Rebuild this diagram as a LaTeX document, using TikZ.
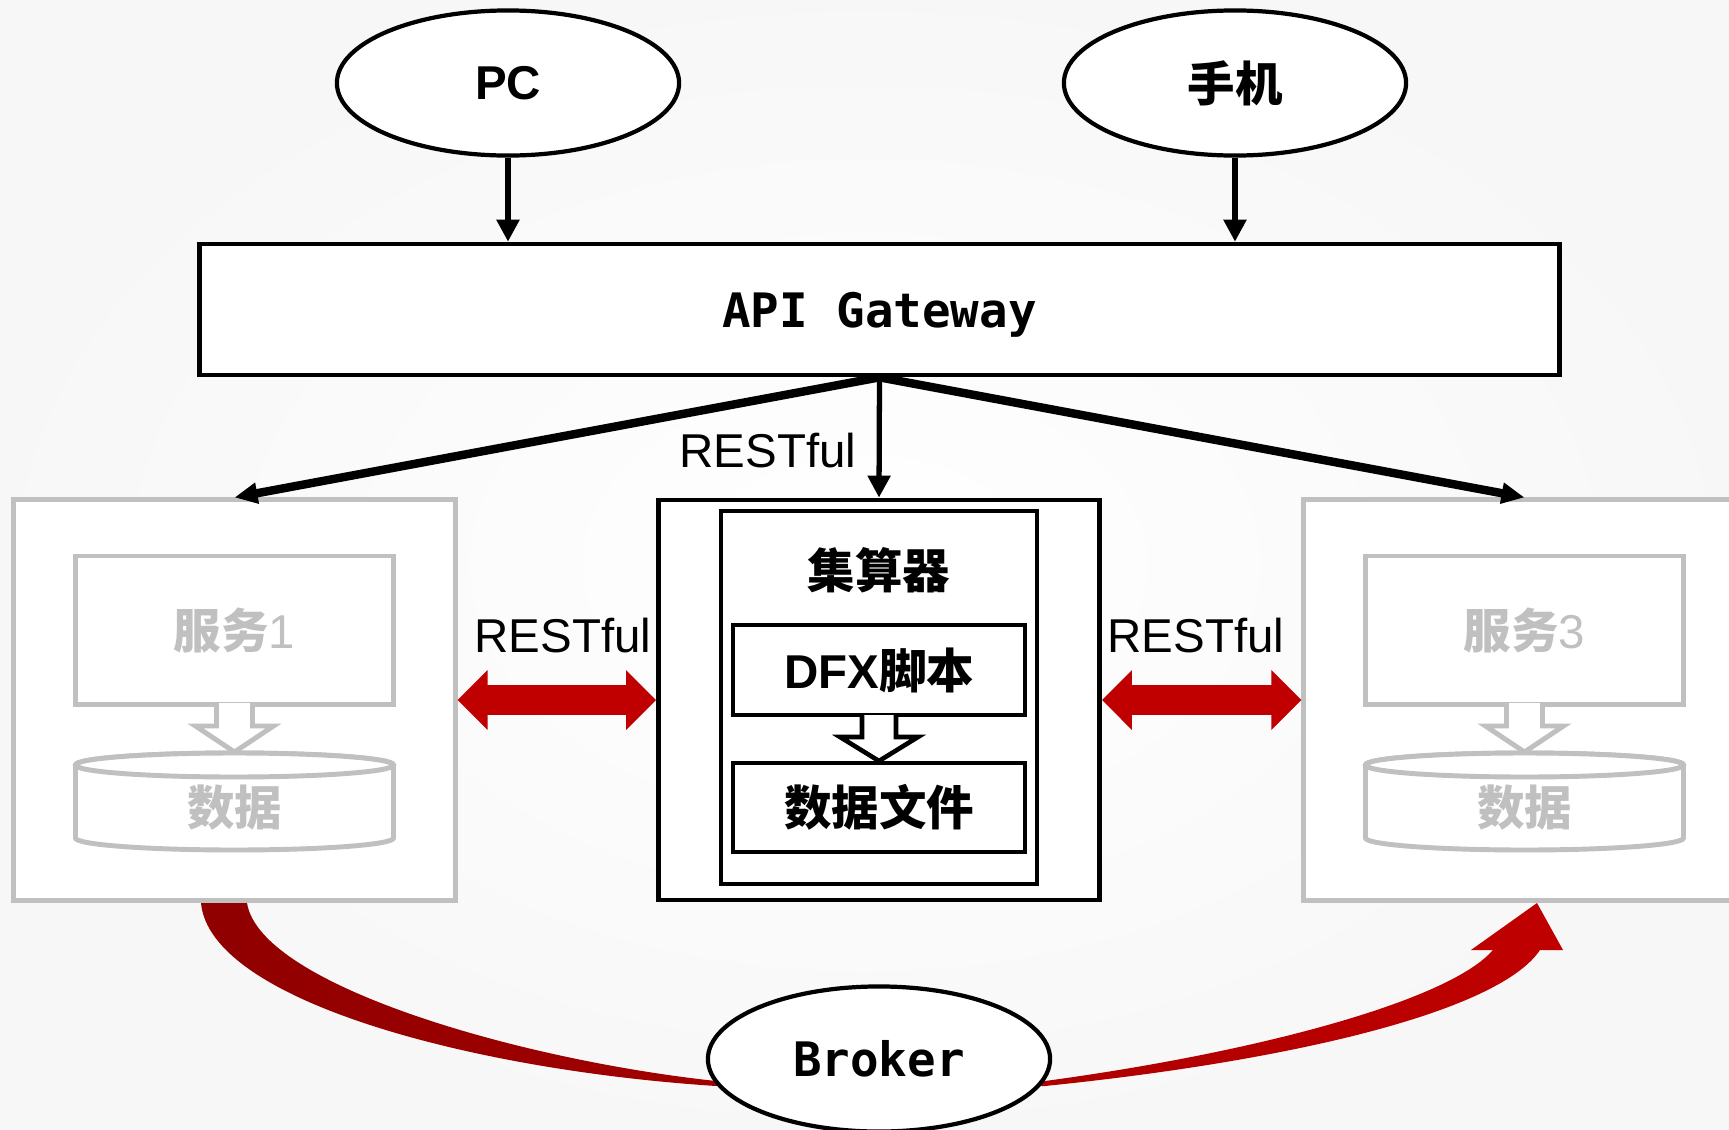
\documentclass[tikz,border=0pt]{standalone}
\usepackage{fontspec}
\setmainfont{Liberation Sans}
\setmonofont{DejaVu Sans Mono}
\newfontfamily\cjk{Noto Sans CJK SC}
\usepackage{tikz}
\usetikzlibrary{positioning, arrows.meta, shapes.geometric}
\definecolor{svcgrey}{HTML}{C0C0C0}
\definecolor{restred}{HTML}{C00000}
\definecolor{brokerred}{HTML}{900000}
\newcommand{\bigtext}{\fontsize{13.5}{16}\selectfont}

\tikzset{
  client/.style={ellipse, draw, line width=1.2pt, fill=white, minimum width=3.42cm, minimum height=1.45cm, inner sep=0pt},
  blackbox/.style={draw, line width=1.3pt, fill=white, inner sep=0pt},
  greybox/.style={draw=svcgrey, line width=1.4pt, fill=white, inner sep=0pt},
  greyline/.style={draw=svcgrey, line width=1.4pt, fill=white},
  link/.style={line width=1.5pt, -{Triangle[length=0.22cm,width=0.22cm]}},
  fatlink/.style={line width=2.4pt, -{Triangle[length=0.23cm,width=0.2cm]}},
  restlink/.style={restred, line width=0.3cm, {Triangle[length=0.3cm,width=0.58cm]}-{Triangle[length=0.3cm,width=0.58cm]}},
  restlabel/.style={inner sep=0pt, font=\bigtext},
}

\begin{document}
\begin{tikzpicture}[x=0.01cm, y=0.01cm]
% background
\shade[inner color=white, outer color=gray!6] (0,0) rectangle (1729,-1130);
\useasboundingbox (0,0) rectangle (1729,-1130);

% clients
\node[client, font=\bigtext\bfseries] (pc) at (508,-83) {PC};
\node[client, font=\bigtext\cjk\bfseries] (phone) at (1235,-83) {手机};

% gateway
\node[blackbox, minimum width=13.59cm, minimum height=1.31cm, text depth=0pt, font=\bigtext\ttfamily\bfseries] (gw) at (879.5,-309.5) {API Gateway};
\draw[link] (pc.south) -- (pc.south |- gw.north);
\draw[link] (phone.south) -- (phone.south |- gw.north);

% services
\node[greybox, minimum width=4.41cm, minimum height=4cm] (svc1) at (234.5,-700) {};
\node[blackbox, minimum width=4.41cm, minimum height=4cm] (agg) at (879,-700) {};
\node[greybox, minimum width=4.41cm, minimum height=4cm] (svc3) at (1524.5,-700) {};

\draw[fatlink] (gw.south) -- (svc1.north);
\draw[link] (gw.south) -- (agg.north);
\draw[fatlink] (gw.south) -- (svc3.north);
\node[restlabel, anchor=east] (rest0) at (857,-451) {RESTful};

% aggregator
\node[blackbox, minimum width=3.16cm, minimum height=3.73cm] (inner) at (879,-697.5) {};
\node[font=\bigtext\cjk\bfseries] (aggname) at (879,-570) {集算器};
\node[blackbox, minimum width=2.92cm, minimum height=0.9cm, font=\bigtext\bfseries] (dfx) at (879,-670) {DFX{\cjk 脚本}};
\node[blackbox, minimum width=2.92cm, minimum height=0.89cm, font=\bigtext\cjk\bfseries] (file) at (879,-807.5) {数据文件};
\draw[line width=1.3pt, fill=white] (862,-715) -- (862,-737) -- (840,-737) -- (879,-761) -- (918,-737) -- (896,-737) -- (896,-715);

% service contents
\foreach \cx/\n in {234.5/1, 1524.5/3} {
  \node[greybox, minimum width=3.18cm, minimum height=1.48cm, text=svcgrey, font=\bigtext] (task\n) at (\cx,-630) {{\cjk\bfseries 服务}\n};
  \draw[greyline] (\cx-18,-703) -- (\cx-18,-726) -- (\cx-39,-726) -- (\cx,-752) -- (\cx+39,-726) -- (\cx+18,-726) -- (\cx+18,-703);
  \draw[greyline] (\cx-159,-765) -- (\cx-159,-838) arc[start angle=180, end angle=360, x radius=159, y radius=12]
    -- (\cx+159,-765) arc[start angle=0, end angle=180, x radius=159, y radius=12] -- cycle;
  \draw[greyline] (\cx,-765) ellipse[x radius=159, y radius=12];
  \node[text=svcgrey, font=\bigtext\cjk\bfseries] (data\n) at (\cx,-808) {数据};
}

% restful links
\draw[restlink] (svc1.east) -- (agg.west);
\draw[restlink] (agg.east) -- (svc3.west);
\node[restlabel] (rest1) at (563,-636) {RESTful};
\node[restlabel] (rest3) at (1196,-636) {RESTful};

% broker band
\shade[left color=brokerred, middle color=restred, right color=restred]
  (201,-903) .. controls (210,-1000) and (470,-1070) .. (716,-1086)
  -- (1045,-1086) .. controls (1300,-1060) and (1500,-1010) .. (1540,-950)
  -- (1563,-950) -- (1537,-903) -- (1471,-950) -- (1493,-950)
  .. controls (1450,-1000) and (1260,-1052) .. (1045,-1081)
  -- (716,-1081) .. controls (520,-1060) and (260,-985) .. (247,-903) -- cycle;
\node[client, font=\bigtext\ttfamily\bfseries] (broker) at (879,-1059) {Broker};

\end{tikzpicture}
\end{document}
